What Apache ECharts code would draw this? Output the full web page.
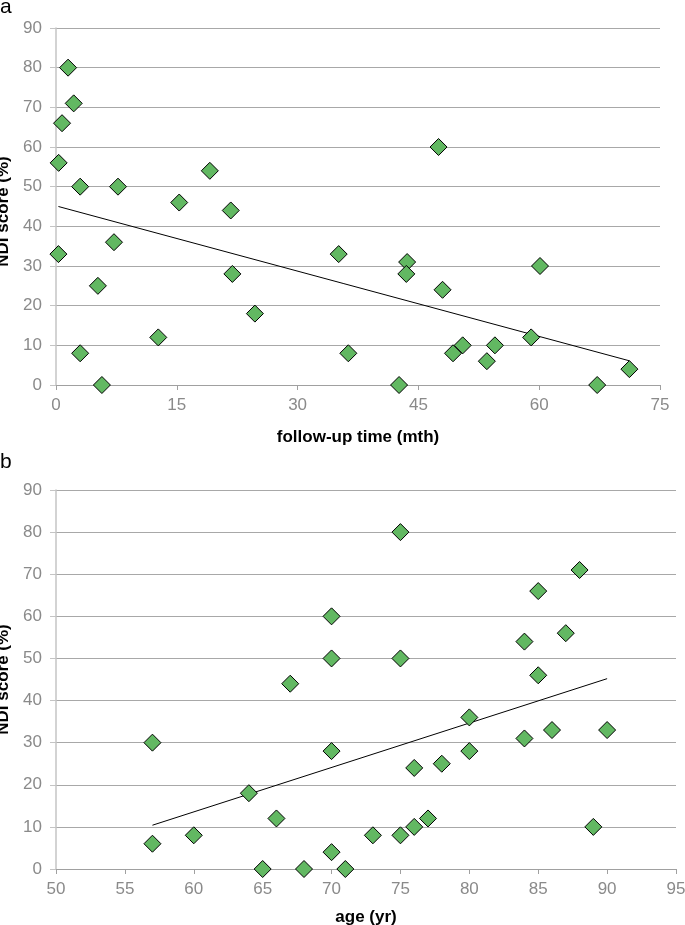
<!DOCTYPE html>
<html>
<head>
<meta charset="utf-8">
<script src="https://cdn.jsdelivr.net/npm/echarts@6/dist/echarts.min.js"></script>
<style>
html,body{margin:0;padding:0;background:#fff;}
#chart{width:685px;height:925px;}
</style>
</head>
<body>
<div id="chart"></div>
<script>
// Panel a: follow-up time (mth) vs NDI score (%)
var followUpTime = [1.5, 2.2, 0.75, 0.33, 3.0, 7.7, 19.1, 15.3, 21.7, 7.2, 0.3, 21.9, 5.2, 24.7, 12.7, 3.0, 5.7, 35.1, 36.3, 47.5, 43.6, 43.5, 48.0, 60.1, 59.0, 50.5, 49.3, 54.5, 53.5, 42.6, 67.2, 71.2];
var ndiA =         [80,  71,  66,   56,   50,  50,  54,   46,   44,   36,  33,  28,   25,  18,   12,   8,   0,   33,   8,    60,   31,   28,   24,   30,   12,   10,   8,    10,   6,    0,    0,    4];
var trendA = [[0.3, 45.0], [71.2, 6.1]];

// Panel b: age (yr) vs NDI score (%)
var age =  [57, 57, 60, 64, 66, 65, 67, 68, 70, 70, 70, 70, 71, 75, 75, 73, 75, 76, 77, 76, 78, 80, 80, 84, 84, 85, 85, 86, 87, 88, 89, 90];
var ndiB = [30, 6,  8,  18, 12, 0,  44, 0,  60, 50, 28, 4,  0,  80, 50, 8,  8,  10, 12, 24, 25, 36, 28, 31, 54, 66, 46, 33, 56, 71, 10, 33];
var trendB = [[57, 10.4], [90, 45.2]];

function pairs(xs, ys){ return xs.map(function(x,i){ return [x, ys[i]]; }); }

var font = 'Liberation Sans, Arial, sans-serif';
var green = '#62b862';

function xAxisCfg(gi, min, max, interval, name, gap){
  return {
    gridIndex: gi, type: 'value', min: min, max: max, interval: interval,
    name: name, nameLocation: 'middle', nameGap: gap,
    nameTextStyle: {color: '#000', fontWeight: 'bold', fontSize: 17, fontFamily: font},
    axisLine: {show: true, onZero: false, lineStyle: {color: '#a0a0a0', width: 1}},
    axisTick: {show: true, length: 5, lineStyle: {color: '#a0a0a0'}},
    axisLabel: {color: '#8a8a8a', fontSize: 17, fontFamily: font, margin: 12},
    splitLine: {show: false}
  };
}
function yAxisCfg(gi, pad){
  return {
    gridIndex: gi, type: 'value', min: 0, max: 90, interval: 10,
    name: 'NDI score (%)', nameLocation: 'middle', nameGap: 39, nameRotate: 90,
    nameTextStyle: {color: '#000', fontWeight: 'bold', fontSize: 17, fontFamily: font, padding: pad},
    axisLine: {show: true, lineStyle: {color: '#c4c4c4', width: 1.5}},
    axisTick: {show: true, length: 6, lineStyle: {color: '#c4c4c4'}},
    axisLabel: {color: '#8a8a8a', fontSize: 17, fontFamily: font, margin: 14},
    splitLine: {show: true, lineStyle: {color: '#a8a8a8', width: 1}}
  };
}

var chart = echarts.init(document.getElementById('chart'), null, {renderer: 'canvas'});
chart.setOption({
  backgroundColor: '#fff',
  animation: false,
  graphic: [
    {type: 'text', left: 0, top: -3, style: {text: 'a', font: '21px ' + font, fill: '#000'}},
    {type: 'text', left: 0, top: 452, style: {text: 'b', font: '21px ' + font, fill: '#000'}}
  ],
  grid: [
    {left: 56, right: 25, top: 28, height: 357, containLabel: false, outerBoundsMode: 'none'},
    {left: 56, right: 9, top: 490, height: 379, containLabel: false, outerBoundsMode: 'none'}
  ],
  xAxis: [
    xAxisCfg(0, 0, 75, 15, 'follow-up time (mth)', 44),
    xAxisCfg(1, 50, 95, 5, 'age (yr)', 40)
  ],
  yAxis: [yAxisCfg(0, [0, 10, 0, 0]), yAxisCfg(1, 0)],
  series: [
    {type: 'line', xAxisIndex: 0, yAxisIndex: 0, data: trendA, symbol: 'none',
     lineStyle: {color: '#000', width: 1}, silent: true, z: 3},
    {type: 'scatter', xAxisIndex: 0, yAxisIndex: 0, data: pairs(followUpTime, ndiA),
     symbol: 'diamond', symbolSize: [17, 17],
     itemStyle: {color: green, borderColor: '#000', borderWidth: 1, opacity: 1}, z: 4},
    {type: 'line', xAxisIndex: 1, yAxisIndex: 1, data: trendB, symbol: 'none',
     lineStyle: {color: '#000', width: 1}, silent: true, z: 3},
    {type: 'scatter', xAxisIndex: 1, yAxisIndex: 1, data: pairs(age, ndiB),
     symbol: 'diamond', symbolSize: [17, 17],
     itemStyle: {color: green, borderColor: '#000', borderWidth: 1, opacity: 1}, z: 4}
  ]
});
</script>
</body>
</html>
